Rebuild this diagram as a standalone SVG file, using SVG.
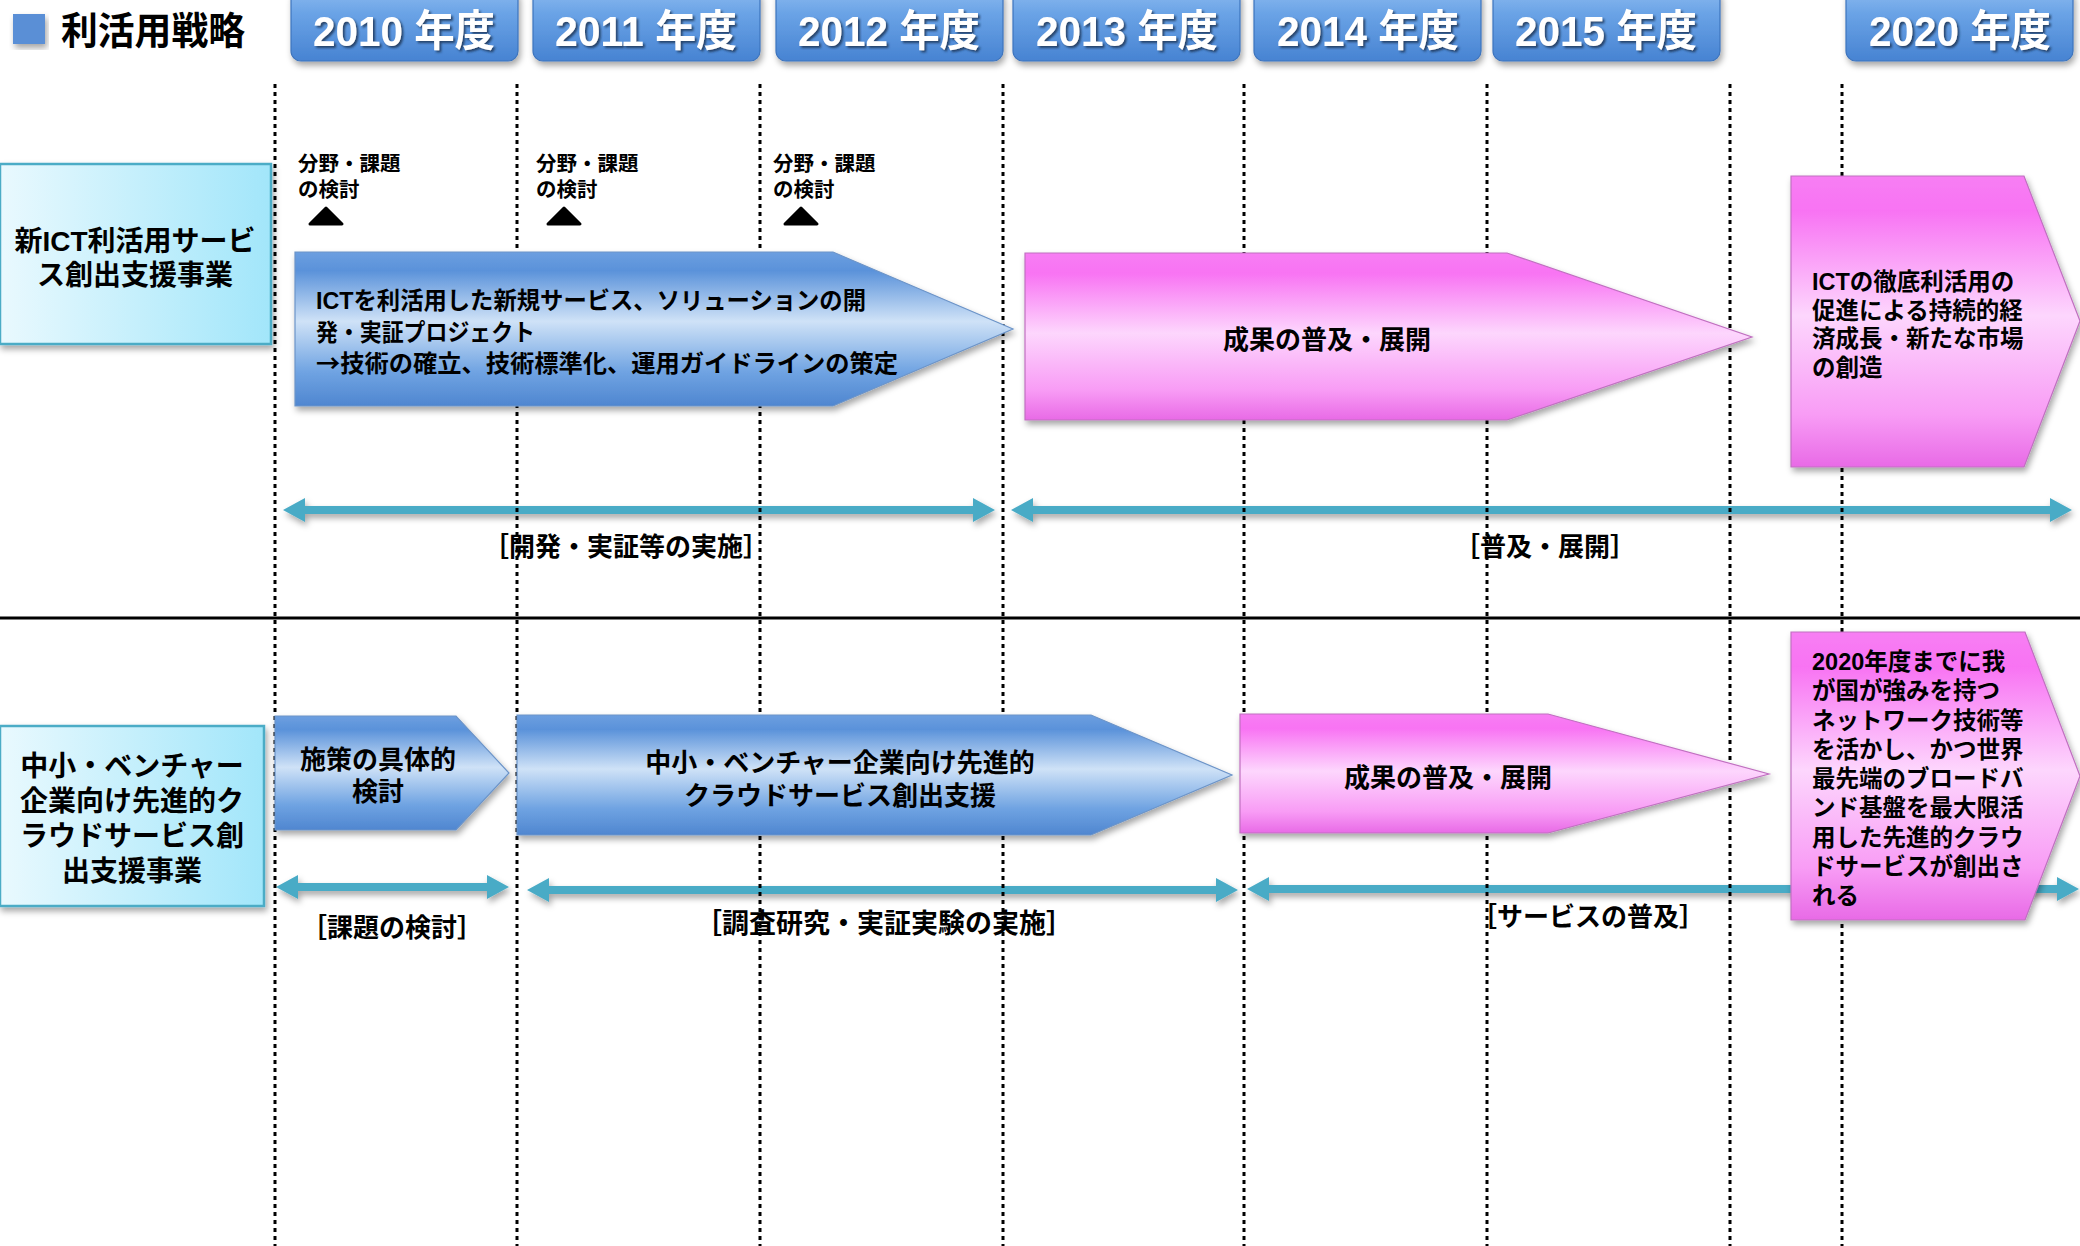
<svg xmlns="http://www.w3.org/2000/svg" width="2080" height="1246" viewBox="0 0 2080 1246">
<style>
.t{font-family:"Liberation Sans","Noto Sans CJK JP",sans-serif;font-weight:700;fill:#000}
.cjk{font-family:"Noto Sans CJK JP",sans-serif}
.yr{font-family:"Liberation Sans","Noto Sans CJK JP",sans-serif;font-weight:700;fill:#fff;font-size:43px;text-anchor:middle}
.btn{fill:url(#gBtn);stroke:#3d74bd;stroke-width:1.2}
.blue{fill:url(#gBlue);stroke:#6c94c8;stroke-width:1.2}
.pink{fill:url(#gPink);stroke:#c070c0;stroke-width:1.2}
.lbl{fill:url(#gLbl);stroke:#4bacc6;stroke-width:2.5}
.dbl{fill:#4aabc6}
.vl{stroke:#000;stroke-width:3;stroke-dasharray:4 4;fill:none}
.tri{fill:#000;stroke:#000;stroke-width:3;stroke-linejoin:round}
</style>
<defs>
<linearGradient id="gBtn" x1="0" y1="0" x2="0" y2="1">
<stop offset="0" stop-color="#8dbbf0"/><stop offset="0.35" stop-color="#6aa3e6"/><stop offset="1" stop-color="#4783d2"/>
</linearGradient>
<linearGradient id="gBlue" x1="0" y1="0" x2="0" y2="1">
<stop offset="0" stop-color="#6d9fe0"/><stop offset="0.12" stop-color="#5a92da"/><stop offset="0.45" stop-color="#cfe2f7"/><stop offset="0.78" stop-color="#6fa3e2"/><stop offset="1" stop-color="#4f86d0"/>
</linearGradient>
<linearGradient id="gPink" x1="0" y1="0" x2="0" y2="1">
<stop offset="0" stop-color="#f77ef3"/><stop offset="0.12" stop-color="#f873f3"/><stop offset="0.48" stop-color="#fdd6fd"/><stop offset="0.82" stop-color="#f89cf5"/><stop offset="1" stop-color="#e86ae6"/>
</linearGradient>
<linearGradient id="gLbl" x1="0" y1="0" x2="1" y2="0">
<stop offset="0" stop-color="#e9f9fe"/><stop offset="1" stop-color="#a2e6fa"/>
</linearGradient>
<filter id="sh" x="-10%" y="-10%" width="120%" height="130%">
<feDropShadow dx="2" dy="4" stdDeviation="3" flood-color="#000" flood-opacity="0.35"/>
</filter>
<filter id="tsh" x="-10%" y="-10%" width="120%" height="130%">
<feDropShadow dx="2" dy="2" stdDeviation="1.2" flood-color="#1a3050" flood-opacity="0.8"/>
</filter>
</defs>

<g id="header">
<rect x="13" y="14" width="32" height="30" fill="#5a8fd6" filter="url(#sh)"/>
<text class="t" x="61" y="44" font-size="38" textLength="184" lengthAdjust="spacingAndGlyphs">利活用戦略</text>
</g>

<g id="years">
<g id="y2010"><rect class="btn" x="291" y="-12" width="227" height="73" rx="10" filter="url(#sh)"/><text class="yr" x="404" y="46" textLength="182" lengthAdjust="spacingAndGlyphs" filter="url(#tsh)">2010 年度</text></g>
<g id="y2011"><rect class="btn" x="533" y="-12" width="227" height="73" rx="10" filter="url(#sh)"/><text class="yr" x="646" y="46" textLength="182" lengthAdjust="spacingAndGlyphs" filter="url(#tsh)">2011 年度</text></g>
<g id="y2012"><rect class="btn" x="776" y="-12" width="227" height="73" rx="10" filter="url(#sh)"/><text class="yr" x="889" y="46" textLength="182" lengthAdjust="spacingAndGlyphs" filter="url(#tsh)">2012 年度</text></g>
<g id="y2013"><rect class="btn" x="1013" y="-12" width="227" height="73" rx="10" filter="url(#sh)"/><text class="yr" x="1127" y="46" textLength="182" lengthAdjust="spacingAndGlyphs" filter="url(#tsh)">2013 年度</text></g>
<g id="y2014"><rect class="btn" x="1254" y="-12" width="227" height="73" rx="10" filter="url(#sh)"/><text class="yr" x="1368" y="46" textLength="182" lengthAdjust="spacingAndGlyphs" filter="url(#tsh)">2014 年度</text></g>
<g id="y2015"><rect class="btn" x="1493" y="-12" width="227" height="73" rx="10" filter="url(#sh)"/><text class="yr" x="1606" y="46" textLength="182" lengthAdjust="spacingAndGlyphs" filter="url(#tsh)">2015 年度</text></g>
<g id="y2020"><rect class="btn" x="1846" y="-12" width="227" height="73" rx="10" filter="url(#sh)"/><text class="yr" x="1960" y="46" textLength="182" lengthAdjust="spacingAndGlyphs" filter="url(#tsh)">2020 年度</text></g>
</g>

<g id="connectors">
<g filter="url(#sh)">
<polygon class="dbl" points="283,510 305,498 305,506 973,506 973,498 995,510 973,522 973,514 305,514 305,522"/>
<polygon class="dbl" points="1011,510 1033,498 1033,506 2050,506 2050,498 2072,510 2050,522 2050,514 1033,514 1033,522"/>
<polygon class="dbl" points="276,887 298,875 298,883 487,883 487,875 509,887 487,899 487,891 298,891 298,899"/>
<polygon class="dbl" points="527,890 549,878 549,886 1216,886 1216,878 1238,890 1216,902 1216,894 549,894 549,902"/>
<polygon class="dbl" points="1247,889 1269,877 1269,885 2057,885 2057,877 2079,889 2057,901 2057,893 1269,893 1269,901"/>
</g>
<g id="span-labels" class="t" font-size="26" text-anchor="middle">
<text x="626" y="556">［開発・実証等の実施］</text>
<text x="1545" y="556">［普及・展開］</text>
<text x="392" y="937">［課題の検討］</text>
<text x="884" y="933" font-size="27">［調査研究・実証実験の実施］</text>
<text x="1588" y="926">［サービスの普及］</text>
</g>
<line x1="0" y1="618" x2="2080" y2="618" stroke="#000" stroke-width="3"/>
<g id="gridlines">
<line class="vl" x1="275" y1="84" x2="275" y2="1246"/>
<line class="vl" x1="517" y1="84" x2="517" y2="1246"/>
<line class="vl" x1="760" y1="84" x2="760" y2="1246"/>
<line class="vl" x1="1003" y1="84" x2="1003" y2="1246"/>
<line class="vl" x1="1244" y1="84" x2="1244" y2="1246"/>
<line class="vl" x1="1487" y1="84" x2="1487" y2="1246"/>
<line class="vl" x1="1730" y1="84" x2="1730" y2="1246"/>
<line class="vl" x1="1842" y1="84" x2="1842" y2="1246"/>
</g>
</g>

<g id="milestones">
<g id="m1"><text class="t" font-size="20.5" x="298" y="171">分野・課題<tspan x="298" dy="26">の検討</tspan></text><polygon class="tri" points="326,208 342,224 310,224"/></g>
<g id="m2"><text class="t" font-size="20.5" x="536" y="171">分野・課題<tspan x="536" dy="26">の検討</tspan></text><polygon class="tri" points="564,208 580,224 548,224"/></g>
<g id="m3"><text class="t" font-size="20.5" x="773" y="171">分野・課題<tspan x="773" dy="26">の検討</tspan></text><polygon class="tri" points="801,208 817,224 785,224"/></g>
</g>

<g id="row1-label">
<rect class="lbl" x="0" y="164" width="271" height="180" filter="url(#sh)"/>
<text class="t" font-size="28" text-anchor="middle" x="135" y="251">新ICT利活用サービ<tspan x="135" dy="34">ス創出支援事業</tspan></text>
</g>

<g id="row1-dev">
<polygon class="blue" points="295,252 833,252 1013,329 833,406 295,406" filter="url(#sh)"/>
<text class="t" font-size="24" x="316" y="309"><tspan textLength="550" lengthAdjust="spacingAndGlyphs">ICTを利活用した新規サービス、ソリューションの開</tspan><tspan x="316" dy="32" textLength="219" lengthAdjust="spacingAndGlyphs">発・実証プロジェクト</tspan><tspan x="316" dy="31" textLength="582" lengthAdjust="spacingAndGlyphs"><tspan class="cjk">→</tspan>技術の確立、技術標準化、運用ガイドラインの策定</tspan></text>
</g>

<g id="row1-spread">
<polygon class="pink" points="1025,253 1507,253 1752,337 1507,420 1025,420" filter="url(#sh)"/>
<text class="t" font-size="26" text-anchor="middle" x="1327" y="349">成果の普及・展開</text>
</g>

<g id="row1-goal">
<polygon class="pink" points="1791,176 2024,176 2080,321 2024,467 1791,467" filter="url(#sh)"/>
<text class="t" font-size="23.5" x="1812" y="290">ICTの徹底利活用の<tspan x="1812" dy="28.7">促進による持続的経</tspan><tspan x="1812" dy="28.7">済成長・新たな市場</tspan><tspan x="1812" dy="28.7">の創造</tspan></text>
</g>

<g id="row2-label">
<rect class="lbl" x="0" y="726" width="264" height="180" filter="url(#sh)"/>
<text class="t" font-size="28" text-anchor="middle" x="132" y="776">中小・ベンチャー<tspan x="132" dy="35">企業向け先進的ク</tspan><tspan x="132" dy="35">ラウドサービス創</tspan><tspan x="132" dy="35">出支援事業</tspan></text>
</g>

<g id="row2-study">
<polygon class="blue" points="275,716 456,716 509,773 456,830 275,830" filter="url(#sh)"/>
<text class="t" font-size="26" text-anchor="middle" x="378" y="769">施策の具体的<tspan x="378" dy="32">検討</tspan></text>
</g>

<g id="row2-dev">
<polygon class="blue" points="517,715 1091,715 1232,775 1091,835 517,835" filter="url(#sh)"/>
<text class="t" font-size="26" text-anchor="middle" x="840" y="772">中小・ベンチャー企業向け先進的<tspan x="840" dy="33">クラウドサービス創出支援</tspan></text>
</g>

<g id="row2-spread">
<polygon class="pink" points="1240,714 1548,714 1769,774 1548,833 1240,833" filter="url(#sh)"/>
<text class="t" font-size="26" text-anchor="middle" x="1448" y="787">成果の普及・展開</text>
</g>

<g id="row2-goal">
<polygon class="pink" points="1791,632 2025,632 2080,776 2025,920 1791,920" filter="url(#sh)"/>
<text class="t" font-size="23.5" x="1812" y="670">2020年度までに我<tspan x="1812" dy="29.25">が国が強みを持つ</tspan><tspan x="1812" dy="29.25">ネットワーク技術等</tspan><tspan x="1812" dy="29.25">を活かし、かつ世界</tspan><tspan x="1812" dy="29.25">最先端のブロードバ</tspan><tspan x="1812" dy="29.25">ンド基盤を最大限活</tspan><tspan x="1812" dy="29.25">用した先進的クラウ</tspan><tspan x="1812" dy="29.25">ドサービスが創出さ</tspan><tspan x="1812" dy="29.25">れる</tspan></text>
</g>
</svg>
